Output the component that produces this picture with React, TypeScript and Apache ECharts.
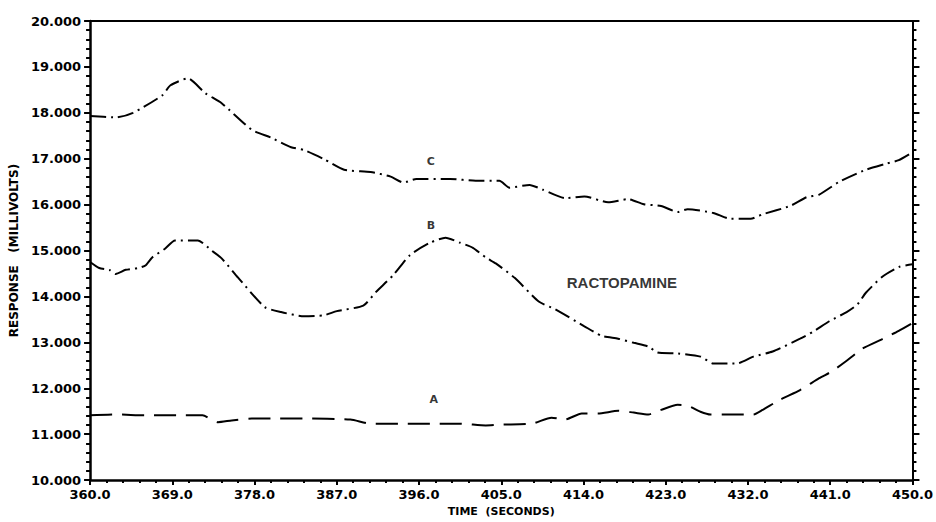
import React, { useEffect, useRef } from "react";
import * as echarts from "echarts";

const timeA = [360, 362.8, 366.1, 370.4, 372.3, 374.0, 375.5, 377.7, 379.8, 383.4, 388.5, 390.7, 394.3, 397.2, 400.5, 403.3, 405.1, 408.4, 410.5, 412.0, 413.8, 415.6, 417.8, 419.5, 421.1, 422.5, 424.3, 425.4, 426.8, 427.9, 430.4, 432.6, 433.6, 435.5, 437.7, 439.8, 441.2, 442.8, 444.5, 446.7, 448.5, 450];
const valuesA = [11.41, 11.43, 11.41, 11.41, 11.41, 11.26, 11.30, 11.34, 11.34, 11.34, 11.32, 11.23, 11.23, 11.23, 11.23, 11.19, 11.21, 11.23, 11.36, 11.32, 11.45, 11.45, 11.51, 11.47, 11.43, 11.53, 11.64, 11.62, 11.49, 11.43, 11.43, 11.43, 11.53, 11.75, 11.96, 12.22, 12.37, 12.60, 12.86, 13.07, 13.25, 13.42];

const timeB = [360, 361.0, 362.1, 362.8, 363.9, 365.3, 366.1, 366.8, 368.2, 369.3, 371.8, 373.3, 374.4, 376.2, 379.1, 380.9, 383.4, 385.6, 387.0, 389.9, 391.3, 393.2, 395.0, 397.2, 398.9, 400.5, 401.9, 403.3, 404.4, 406.5, 409.1, 410.9, 414.1, 416.0, 417.8, 419.5, 421.1, 422.1, 424.3, 426.8, 428.2, 430.8, 432.6, 434.7, 437.7, 439.1, 440.9, 442.8, 444.0, 444.9, 446.7, 448.5, 450];
const valuesB = [14.75, 14.62, 14.58, 14.49, 14.58, 14.62, 14.68, 14.85, 15.04, 15.22, 15.22, 15.00, 14.83, 14.41, 13.77, 13.66, 13.57, 13.59, 13.68, 13.80, 14.10, 14.47, 14.90, 15.17, 15.28, 15.17, 15.06, 14.85, 14.72, 14.40, 13.89, 13.72, 13.35, 13.14, 13.08, 12.99, 12.91, 12.78, 12.76, 12.69, 12.54, 12.54, 12.69, 12.80, 13.08, 13.23, 13.46, 13.66, 13.83, 14.08, 14.43, 14.64, 14.70];

const timeC = [360, 362.8, 364.7, 367.9, 368.8, 370.7, 372.6, 374.4, 377.7, 379.8, 382.0, 383.4, 385.6, 387.8, 390.7, 392.9, 394.3, 395.7, 399.4, 402.2, 404.8, 405.9, 408.1, 409.5, 412.0, 414.1, 416.7, 418.9, 420.6, 422.5, 424.3, 425.4, 428.2, 430.1, 432.3, 433.6, 436.6, 438.4, 439.8, 442.0, 444.9, 447.1, 448.5, 450];
const valuesC = [17.93, 17.90, 18.00, 18.38, 18.60, 18.75, 18.43, 18.21, 17.63, 17.46, 17.25, 17.19, 16.99, 16.76, 16.71, 16.61, 16.48, 16.56, 16.56, 16.52, 16.52, 16.37, 16.43, 16.33, 16.14, 16.18, 16.05, 16.12, 16.01, 15.97, 15.84, 15.90, 15.82, 15.69, 15.69, 15.79, 15.97, 16.16, 16.22, 16.50, 16.76, 16.89, 16.97, 17.14];

const annotationLabels = ["C", "B", "A", "RACTOPAMINE"];
const annotationX = [397.3, 397.3, 397.6, 418.2];
const annotationY = [16.95, 15.54, 11.75, 14.3];

const xTickMin = 360;
const xTickMax = 450;
const xTickStep = 9;
const yTickMin = 10;
const yTickMax = 20;
const yTickStep = 1;

const FONT = "DejaVu Sans";

export default function App() {
  const ref = useRef<HTMLDivElement>(null);
  useEffect(() => {
    if (!ref.current) return;
    const chart = echarts.init(ref.current, null, { renderer: "svg" });
    const zip = (t: number[], v: number[]) => t.map((x, i) => [x, v[i]]);
    const axisLine = { show: true, lineStyle: { color: "#000", width: 2.5 } };
    const option: any = {
      animation: false,
      backgroundColor: "#fff",
      grid: { left: 84, right: 23, top: 21, bottom: 33, containLabel: false },
      xAxis: [
        {
          type: "value",
          min: xTickMin,
          max: xTickMax,
          interval: xTickStep,
          position: "bottom",
          axisLine,
          axisTick: { show: true, inside: false, length: 5, lineStyle: { color: "#000", width: 2 } },
          minorTick: { show: true, splitNumber: 5, length: 3, lineStyle: { color: "#000", width: 2 } },
          splitLine: { show: false },
          axisLabel: {
            color: "#000",
            fontFamily: FONT,
            fontWeight: "bold",
            fontSize: 13,
            margin: 8,
            formatter: (v: number) => v.toFixed(1),
          },
          name: "TIME  (SECONDS)",
          nameLocation: "middle",
          nameGap: 25,
          nameTextStyle: { color: "#000", fontFamily: FONT, fontWeight: "bold", fontSize: 11 },
        },
        {
          type: "value",
          min: xTickMin,
          max: xTickMax,
          interval: xTickStep,
          position: "top",
          axisLine: { show: true, lineStyle: { color: "#000", width: 2 } },
          axisTick: { show: false },
          axisLabel: { show: false },
          splitLine: { show: false },
        },
      ],
      yAxis: [
        {
          type: "value",
          min: yTickMin,
          max: yTickMax,
          interval: yTickStep,
          position: "left",
          axisLine,
          axisTick: { show: true, inside: false, length: 6, lineStyle: { color: "#000", width: 2 } },
          minorTick: { show: true, splitNumber: 5, length: 4, lineStyle: { color: "#000", width: 2 } },
          splitLine: { show: false },
          axisLabel: {
            color: "#000",
            fontFamily: FONT,
            fontWeight: "bold",
            fontSize: 13,
            margin: 9,
            formatter: (v: number) => v.toFixed(3),
          },
          name: "RESPONSE   (MILLIVOLTS)",
          nameLocation: "middle",
          nameGap: 66,
          nameTextStyle: { color: "#000", fontFamily: FONT, fontWeight: "bold", fontSize: 12 },
        },
        {
          type: "value",
          min: yTickMin,
          max: yTickMax,
          interval: yTickStep,
          position: "right",
          axisLine: { show: true, lineStyle: { color: "#000", width: 2 } },
          axisTick: { show: true, inside: false, length: 7, lineStyle: { color: "#000", width: 2 } },
          minorTick: { show: true, splitNumber: 5, length: 4, lineStyle: { color: "#000", width: 2 } },
          splitLine: { show: false },
          axisLabel: { show: false },
        },
      ],
      series: [
        {
          type: "line",
          name: "C",
          data: zip(timeC, valuesC),
          showSymbol: false,
          smooth: 0.2,
          lineStyle: { color: "#000", width: 2, type: [16, 5, 2, 5] },
        },
        {
          type: "line",
          name: "B",
          data: zip(timeB, valuesB),
          showSymbol: false,
          smooth: 0.2,
          lineStyle: { color: "#000", width: 2, type: [16, 5, 2, 5] },
        },
        {
          type: "line",
          name: "A",
          data: zip(timeA, valuesA),
          showSymbol: false,
          smooth: 0.2,
          lineStyle: { color: "#000", width: 2, type: [22, 10] },
        },
        {
          type: "scatter",
          symbolSize: 0,
          silent: true,
          data: annotationLabels.map((name, i) => ({
            value: [annotationX[i], annotationY[i]],
            label: {
              show: true,
              position: "inside",
              formatter: name,
              color: "#000",
              fontFamily: name.length > 1 ? "Liberation Sans" : FONT,
              fontWeight: "bold",
              fontSize: name.length > 1 ? 15 : 11,
            },
          })),
        },
      ],
    };
    chart.setOption(option);
    return () => chart.dispose();
  }, []);
  return (
    <div
      ref={ref}
      style={{ position: "fixed", left: 0, top: 0, width: 936, height: 522, background: "#fff" }}
    />
  );
}
